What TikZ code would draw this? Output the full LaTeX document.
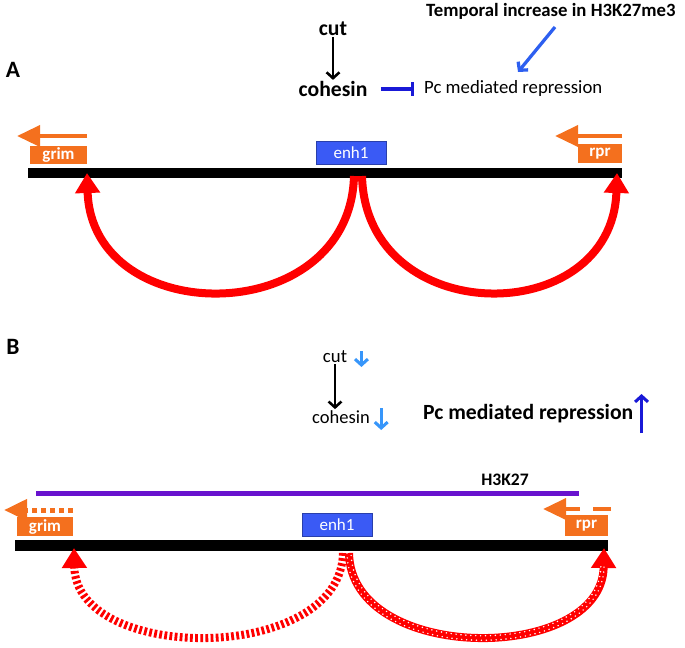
\documentclass[tikz,border=0pt]{standalone}
\usepackage{fontspec}
\setmainfont{Carlito}
\usetikzlibrary{arrows.meta}
\definecolor{geneorange}{RGB}{244,112,30}
\definecolor{enhblue}{RGB}{58,90,245}
\definecolor{inhblue}{RGB}{25,25,215}
\definecolor{tempblue}{RGB}{45,95,240}
\definecolor{lightblue}{RGB}{55,150,250}
\definecolor{histpurple}{RGB}{104,18,206}

\begin{document}
\begin{tikzpicture}[x=0.03cm,y=-0.03cm,
    genebox/.style={fill=geneorange,text=white,inner sep=0pt,font=\fontsize{14.5}{15}\selectfont\bfseries},
    enhbox/.style={fill=enhblue,draw=enhblue!70!black,text=white,inner sep=0pt,minimum width=2.1cm,minimum height=0.68cm,font=\fontsize{14.5}{15}\selectfont},
    genearr/.style={geneorange,line width=0.135cm,-{Triangle[width=0.62cm,length=0.69cm]}},
    loopline/.style={red,line width=0.24cm,-{Triangle[width=0.72cm,length=0.6cm]}},
    dots/.style={white,line width=1.4pt,line cap=round,dash pattern=on 0pt off 4.2pt,shorten >=0.55cm},
    arr/.style={line width=2.2pt,-{Straight Barb[length=5pt,width=11pt]}},
    panel/.style={font=\fontsize{20}{20}\selectfont\bfseries,inner sep=0pt}]
    \useasboundingbox (0,0) rectangle (685,647);

    % panel A
    \node[panel](panA) at (13,70){A};
    \node[font=\fontsize{18.5}{19}\selectfont\bfseries,inner sep=1pt](cutA) at (333,29){cut};
    \node[font=\fontsize{18.5}{19}\selectfont\bfseries,inner sep=1pt](cohA) at (333,89){cohesin};
    \node[font=\fontsize{16}{17}\selectfont,anchor=west,inner sep=0pt](pcA) at (424,89){Pc mediated repression};
    \node[font=\fontsize{16}{17}\selectfont\bfseries,anchor=west,inner sep=0pt](tempA) at (426,11){Temporal increase in H3K27me3};
    \coordinate(tA) at (555,27);
    \coordinate(tB) at (518,72);
    \draw[arr](cutA.south)--(cohA.north);
    \draw[inhblue,line width=2.6pt,-{Bar[width=0.42cm]},shorten <=0.36cm,shorten >=0.3cm](cohA.east)--(pcA.west);
    \draw[arr,tempblue,line width=2.8pt](tA)--(tB);

    \fill(28,168)rectangle(622,177.5);
    \node[enhbox](enhA) at (351,152.5){enh1};
    \node[genebox,minimum width=1.71cm,minimum height=0.54cm](grimA) at (58.5,155){grim};
    \node[genebox,minimum width=1.32cm,minimum height=0.57cm](rprA) at (600,153.5){rpr};
    \draw[genearr](grimA.north east|-0,136)--(17,136);
    \draw[genearr](rprA.north east|-0,136)--(555,136);

    % loops A
    \coordinate(eA1) at (354,176);
    \coordinate(eA2) at (362,176);
    \coordinate(gA) at (87,173);
    \coordinate(rA) at (617,173);
    \draw[loopline](eA1)..controls(350,330)and(92,330)..(gA);
    \draw[loopline](eA2)..controls(366,330)and(612,330)..(rA);

    % panel B
    \node[panel](panB) at (13,347){B};
    \node[font=\fontsize{16}{17}\selectfont,inner sep=1pt](cutB) at (335,357){cut};
    \node[font=\fontsize{15.8}{17}\selectfont,inner sep=1pt](cohB) at (341,417){cohesin};
    \node[font=\fontsize{18.5}{19}\selectfont\bfseries,anchor=west,inner sep=0pt](pcB) at (423,414){Pc mediated repression};
    \node[font=\fontsize{15}{16}\selectfont\bfseries,inner sep=0pt](h3k) at (505,480){H3K27};
    \draw[arr](cutB.south)--(cutB.south|-cohB.north);
    \draw[arr,lightblue,line width=2.6pt](cutB.east)++(13,-6)--++(0,16);
    \draw[arr,lightblue,line width=2.6pt](cohB.east)++(10,-9)--++(0,22);
    \draw[arr,inhblue,line width=2.6pt](pcB.east)++(8,19)--++(0,-39);

    \draw[histpurple,line width=0.15cm](36,493)--(579,493);
    \fill(15,540)rectangle(608,551);
    \node[enhbox](enhB) at (337,524.5){enh1};
    \node[genebox,minimum width=1.68cm,minimum height=0.57cm](grimB) at (45,526.5){grim};
    \node[genebox,minimum width=1.29cm,minimum height=0.63cm](rprB) at (586.5,525.5){rpr};
    \draw[genearr,line width=0.15cm,dash pattern=on 4.3pt off 3.4pt](grimB.north east|-0,510)--(4,510);
    \draw[genearr,dash pattern=on 15.4pt off 11pt](611,509)--(543,509);

    % loops B
    \coordinate(eB1) at (343,553);
    \coordinate(eB2) at (349,553);
    \coordinate(gB) at (74,548);
    \coordinate(rB) at (604,548);
    \draw[loopline,dash pattern=on 2.4pt off 2pt](eB1)..controls(341,664)and(76,664)..(gB);
    \draw[loopline](eB2)..controls(351,664)and(602,664)..(rB);
    \draw[dots](347,553)..controls(349,667)and(604,667)..(rB);
    \draw[dots,dash phase=2.1pt]([xshift=1.7pt]eB2)..controls(353,661)and(600,661)..(601,548);
\end{tikzpicture}
\end{document}
